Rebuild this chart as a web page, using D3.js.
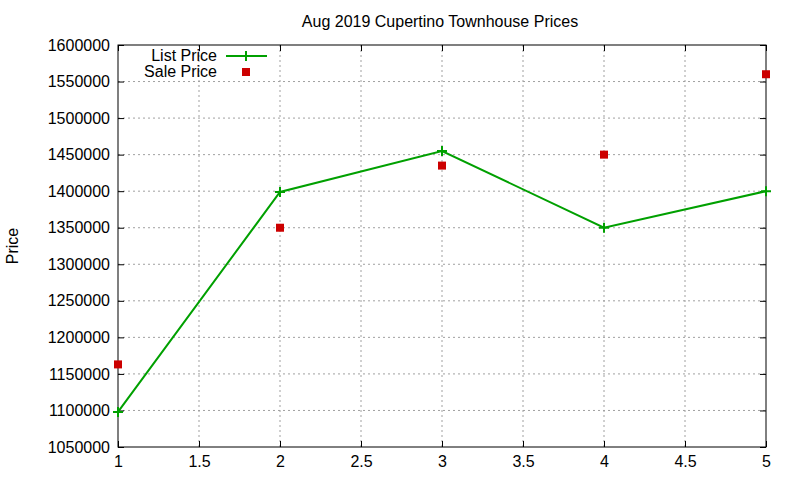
<!DOCTYPE html>
<html>
<head>
<meta charset="utf-8">
<script src="https://cdn.jsdelivr.net/npm/d3@7"></script>
<style>
  body { margin: 0; background: #fff; }
  svg { display: block; }
  text { font-family: "Liberation Sans", Arial, sans-serif; fill: #000; }
</style>
</head>
<body>
<svg id="chart"></svg>
<script>
let w = 800;
let h = 480;

let xs = [1, 2, 3, 4, 5];
let listPrice = [1098000, 1399000, 1455000, 1350000, 1400000];
let salePrice = [1163000, 1350000, 1435000, 1450000, 1560000];
let xTicks = [1, 1.5, 2, 2.5, 3, 3.5, 4, 4.5, 5];
let yTicks = [1050000, 1100000, 1150000, 1200000, 1250000, 1300000, 1350000, 1400000, 1450000, 1500000, 1550000, 1600000];

let plotLeft = 118, plotRight = 766, plotTop = 45, plotBottom = 447;
let fontSize = 16;

let svg = d3.select('#chart').attr('width', w).attr('height', h);

let x = d3.scaleLinear().domain([1, 5]).range([plotLeft, plotRight]);
let y = d3.scaleLinear().domain([1050000, 1600000]).range([plotBottom, plotTop]);

// grid
svg.append('g').selectAll('line')
    .data(xTicks.slice(1, -1))
    .enter().append('line')
    .attr('x1', d => x(d)).attr('x2', d => x(d))
    .attr('y1', plotTop).attr('y2', plotBottom)
    .attr('stroke', '#a0a0a0').attr('stroke-dasharray', '2,3');
svg.append('g').selectAll('line')
    .data(yTicks.slice(1, -1))
    .enter().append('line')
    .attr('x1', plotLeft).attr('x2', plotRight)
    .attr('y1', d => y(d)).attr('y2', d => y(d))
    .attr('stroke', '#a0a0a0').attr('stroke-dasharray', '2,3');

// axes with inward ticks, mirrored
let axisStyle = g => {
    g.select('.domain').remove();
    g.selectAll('line').attr('stroke', '#000');
    g.selectAll('text').style('font-size', fontSize + 'px').style('font-family', '"Liberation Sans", Arial, sans-serif');
};
svg.append('g').attr('transform', `translate(0,${plotBottom})`)
    .call(d3.axisBottom(x).tickValues(xTicks).tickFormat(d3.format('')).tickSizeInner(-6).tickPadding(9))
    .call(axisStyle);
svg.append('g').attr('transform', `translate(0,${plotTop})`)
    .call(d3.axisTop(x).tickValues(xTicks).tickFormat('').tickSizeInner(-6))
    .call(axisStyle);
svg.append('g').attr('transform', `translate(${plotLeft},0)`)
    .call(d3.axisLeft(y).tickValues(yTicks).tickFormat(d3.format('d')).tickSizeInner(-6).tickPadding(8))
    .call(axisStyle);
svg.append('g').attr('transform', `translate(${plotRight},0)`)
    .call(d3.axisRight(y).tickValues(yTicks).tickFormat('').tickSizeInner(-6))
    .call(axisStyle);

svg.append('rect')
    .attr('x', plotLeft).attr('y', plotTop)
    .attr('width', plotRight - plotLeft).attr('height', plotBottom - plotTop)
    .attr('fill', 'none').attr('stroke', '#000').attr('stroke-width', 1);

// list price line
let line = d3.line().x((d, i) => x(xs[i])).y(d => y(d));
svg.append('path')
    .datum(listPrice)
    .attr('d', line)
    .attr('fill', 'none').attr('stroke', '#00a000').attr('stroke-width', 2);

let plus = (g, cx, cy) => {
    g.append('path')
        .attr('d', `M${cx - 5},${cy}H${cx + 5}M${cx},${cy - 5}V${cy + 5}`)
        .attr('stroke', '#00a000').attr('stroke-width', 2);
};
let pts = svg.append('g');
listPrice.forEach((d, i) => plus(pts, x(xs[i]), y(d)));

// sale price squares
svg.append('g').selectAll('rect')
    .data(salePrice)
    .enter().append('rect')
    .attr('x', (d, i) => x(xs[i]) - 4).attr('y', d => y(d) - 4)
    .attr('width', 8).attr('height', 8)
    .attr('fill', '#cc0000');

// title and label
svg.append('text').attr('x', 440).attr('y', 27)
    .attr('text-anchor', 'middle').style('font-size', fontSize + 'px')
    .text('Aug 2019 Cupertino Townhouse Prices');
svg.append('text')
    .attr('transform', `translate(18,246) rotate(-90)`)
    .attr('text-anchor', 'middle').style('font-size', fontSize + 'px')
    .text('Price');

// legend
let leg = svg.append('g');
leg.append('text').attr('x', 217).attr('y', 61).attr('text-anchor', 'end')
    .style('font-size', fontSize + 'px').text('List Price');
leg.append('line').attr('x1', 226).attr('x2', 267).attr('y1', 56).attr('y2', 56)
    .attr('stroke', '#00a000').attr('stroke-width', 2);
plus(leg, 246, 56);
leg.append('text').attr('x', 217).attr('y', 77).attr('text-anchor', 'end')
    .style('font-size', fontSize + 'px').text('Sale Price');
leg.append('rect').attr('x', 242).attr('y', 68).attr('width', 8).attr('height', 8)
    .attr('fill', '#cc0000');
</script>
</body>
</html>
